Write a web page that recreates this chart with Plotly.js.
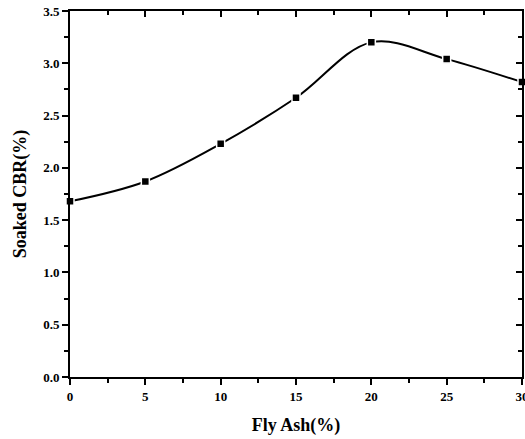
<!DOCTYPE html>
<html><head><meta charset="utf-8">
<script src="https://cdn.plot.ly/plotly-3.0.1.min.js"></script>
<style>html,body{margin:0;padding:0;background:#fff}#chart{width:525px;height:439px}</style>
</head><body><div id="chart"></div>
<script>
var flyAsh = [0, 5, 10, 15, 20, 25, 30];
var soakedCBR = [1.68, 1.87, 2.23, 2.67, 3.2, 3.04, 2.82];
var xTickVals = [0, 5, 10, 15, 20, 25, 30];
var yTickVals = [0.0, 0.5, 1.0, 1.5, 2.0, 2.5, 3.0, 3.5];
var yTickText = yTickVals.map(function(v){return v.toFixed(1);});

var fontFam = '"Liberation Serif", "Times New Roman", serif';
var traces = [
  {x: flyAsh, y: soakedCBR, type: 'scatter', mode: 'lines+markers',
   line: {color: '#000', width: 2, shape: 'spline', smoothing: 1},
   marker: {symbol: 'square', size: 8, color: '#000', line: {color: '#fff', width: 1.5}},
   cliponaxis: false, hoverinfo: 'skip'},
  {x: flyAsh, y: soakedCBR, xaxis: 'x2', yaxis: 'y2', type: 'scatter', mode: 'markers',
   marker: {opacity: 0}, hoverinfo: 'skip', showlegend: false}
];
var layout = {
  width: 525, height: 439,
  margin: {l: 70, r: 3, t: 11, b: 62},
  showlegend: false,
  paper_bgcolor: '#fff', plot_bgcolor: '#fff',
  font: {family: fontFam, color: '#000'},
  xaxis: {range: [0, 30], tickvals: xTickVals, showgrid: false, zeroline: false,
    showline: true, linecolor: '#000', linewidth: 2, ticklabeloverflow: 'allow',
    ticks: 'outside', ticklen: 6, tickwidth: 2, tickcolor: '#000',
    minor: {dtick: 2.5, ticks: 'outside', ticklen: 4, tickwidth: 2, tickcolor: '#000', showgrid: false},
    tickfont: {family: fontFam, size: 13, weight: 'bold'},
    title: {text: '<b>Fly Ash(%)</b>', font: {family: fontFam, size: 18}, standoff: 16}},
  yaxis: {range: [0, 3.5], tickvals: yTickVals, ticktext: yTickText, showgrid: false, zeroline: false,
    showline: true, linecolor: '#000', linewidth: 2,
    ticks: 'outside', ticklen: 6, tickwidth: 2, tickcolor: '#000',
    minor: {dtick: 0.25, ticks: 'outside', ticklen: 4, tickwidth: 2, tickcolor: '#000', showgrid: false},
    tickfont: {family: fontFam, size: 13, weight: 'bold'},
    title: {text: '<b>Soaked CBR(%)</b>', font: {family: fontFam, size: 18}, standoff: 12}},
  xaxis2: {range: [0, 30], overlaying: 'x', side: 'top', anchor: 'y', showgrid: false, zeroline: false,
    showline: true, linecolor: '#000', linewidth: 2, showticklabels: false,
    tickvals: xTickVals, ticks: 'inside', ticklen: 6, tickwidth: 2, tickcolor: '#000',
    minor: {dtick: 2.5, ticks: 'inside', ticklen: 4, tickwidth: 2, tickcolor: '#000', showgrid: false}},
  yaxis2: {range: [0, 3.5], overlaying: 'y', side: 'right', anchor: 'x', showgrid: false, zeroline: false,
    showline: true, linecolor: '#000', linewidth: 2, showticklabels: false,
    tickvals: yTickVals, ticks: 'inside', ticklen: 6, tickwidth: 2, tickcolor: '#000',
    minor: {dtick: 0.25, ticks: 'inside', ticklen: 4, tickwidth: 2, tickcolor: '#000', showgrid: false}}
};
Plotly.newPlot('chart', traces, layout, {displayModeBar: false, staticPlot: true});
</script></body></html>
